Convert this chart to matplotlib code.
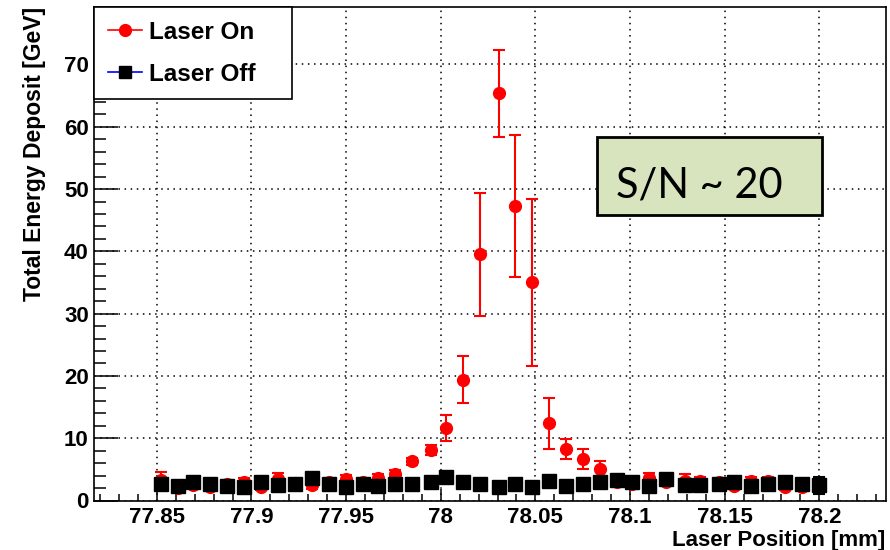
import matplotlib.pyplot as plt
from matplotlib.ticker import MultipleLocator
from matplotlib.lines import Line2D
from matplotlib.patches import Rectangle

plt.rcParams['font.family'] = ['Liberation Sans', 'DejaVu Sans']

# laser position of every scan step [mm]
pos = [77.852, 77.861, 77.869, 77.878, 77.887, 77.896, 77.905, 77.914,
       77.923, 77.932, 77.941, 77.950, 77.959, 77.967, 77.976, 77.985,
       77.995, 78.003, 78.012, 78.021, 78.031, 78.039, 78.048, 78.057,
       78.066, 78.075, 78.084, 78.093, 78.101, 78.110, 78.119, 78.129,
       78.137, 78.147, 78.155, 78.164, 78.173, 78.182, 78.191, 78.200]

# total energy deposit [GeV], laser on
on_val = [3.3, 2.0, 2.5, 2.2, 2.7, 3.0, 2.2, 3.5, 2.8, 2.5, 2.9, 3.4, 2.9, 3.6,
          4.3, 6.3, 8.1, 11.7, 19.4, 39.5, 65.4, 47.2, 35.0, 12.4, 8.2, 6.6,
          5.0, 3.0, 2.7, 3.6, 3.0, 3.1, 3.1, 2.9, 2.4, 3.1, 3.1, 2.2, 2.2, 2.5]
on_err = [1.3, 0.6, 0.5, 0.5, 0.6, 0.6, 0.5, 0.9, 0.6, 0.6, 0.6, 0.7, 0.6, 0.6,
          0.6, 0.6, 0.8, 2.1, 3.8, 9.9, 7.0, 11.4, 13.4, 4.1, 1.6, 1.6,
          1.3, 0.6, 0.6, 0.8, 0.5, 1.2, 0.6, 0.5, 0.5, 0.6, 0.6, 0.5, 0.5, 0.5]

# laser off
off_val = [2.7, 2.4, 2.9, 2.6, 2.4, 2.1, 2.9, 2.45, 2.7, 3.6, 2.6, 2.1, 2.6, 2.4,
           2.7, 2.7, 2.9, 3.7, 2.9, 2.6, 2.1, 2.7, 2.1, 3.2, 2.4, 2.6,
           2.9, 3.3, 2.9, 2.4, 3.4, 2.5, 2.5, 2.7, 2.9, 2.4, 2.7, 2.9, 2.6, 2.45]
off_err = [0.4] * 39 + [1.4]

fig = plt.figure(figsize=(8.9, 5.5), dpi=100)
ax = fig.add_axes([0.106, 0.09, 0.889, 0.897])

ax.errorbar(pos, on_val, yerr=on_err, fmt='o', color='red', ms=8.5,
            elinewidth=1.5, capsize=4, capthick=1.5, zorder=3)
ax.errorbar(pos, off_val, yerr=off_err, fmt='s', color='black', ms=9.5,
            elinewidth=1.5, capsize=4, capthick=1.5, zorder=4)

ax.set_xlim(77.817, 78.235)
ax.set_ylim(0, 79.2)
ax.xaxis.set_minor_locator(MultipleLocator(0.01))
ax.yaxis.set_major_locator(MultipleLocator(10))
ax.yaxis.set_minor_locator(MultipleLocator(2))
ax.set_xticks([77.85, 77.9, 77.95, 78.0, 78.05, 78.1, 78.15, 78.2])
ax.set_xticklabels(['77.85', '77.9', '77.95', '78', '78.05', '78.1', '78.15', '78.2'])

ax.tick_params(axis='both', which='both', direction='in', top=False, right=False,
               labelsize=16, width=1.1)
ax.tick_params(axis='x', which='major', length=8.5, pad=5)
ax.tick_params(axis='x', which='minor', length=5)
ax.tick_params(axis='y', which='major', length=17, pad=4)
ax.tick_params(axis='y', which='minor', length=8.5)
for lab in ax.get_xticklabels() + ax.get_yticklabels():
    lab.set_fontweight('bold')
for s in ax.spines.values():
    s.set_linewidth(1.2)

ax.grid(True, which='major', linestyle=(0, (1, 3)), color='black', linewidth=1.1)
ax.set_axisbelow(True)

ax.set_xlabel('Laser Position [mm]', fontsize=16, fontweight='bold', loc='right',
              labelpad=1)
ax.set_ylabel('Total Energy Deposit [GeV]', fontsize=16.5, fontweight='bold', loc='top',
              labelpad=13)

handles = [Line2D([], [], color='red', marker='o', ms=8.5, lw=1.2),
           Line2D([], [], color='blue', marker='s', mfc='black', mec='black', ms=9, lw=1.2)]
leg = ax.legend(handles, ['Laser On', 'Laser Off'], loc='upper left',
                bbox_to_anchor=(0.0, 0.0, 0.25, 1.0), mode='expand',
                fancybox=False, framealpha=1,
                edgecolor='black', borderaxespad=0, handlelength=1.4,
                labelspacing=0.8, borderpad=0.55, handletextpad=0.3,
                prop={'weight': 'bold', 'size': 17.5})
leg.get_frame().set_linewidth(1.2)

# S/N annotation box
ax.add_patch(Rectangle((0.635, 0.5786), 0.285, 0.158, transform=ax.transAxes,
                       fc='#d7e4bd', ec='black', lw=2, zorder=5))
ax.text(0.659, 0.615, 'S/N ~ 20', transform=ax.transAxes, fontsize=30,
        family=['Lato', 'DejaVu Sans'], va='baseline', ha='left', zorder=6)

fig.savefig('out.png', dpi=100)
